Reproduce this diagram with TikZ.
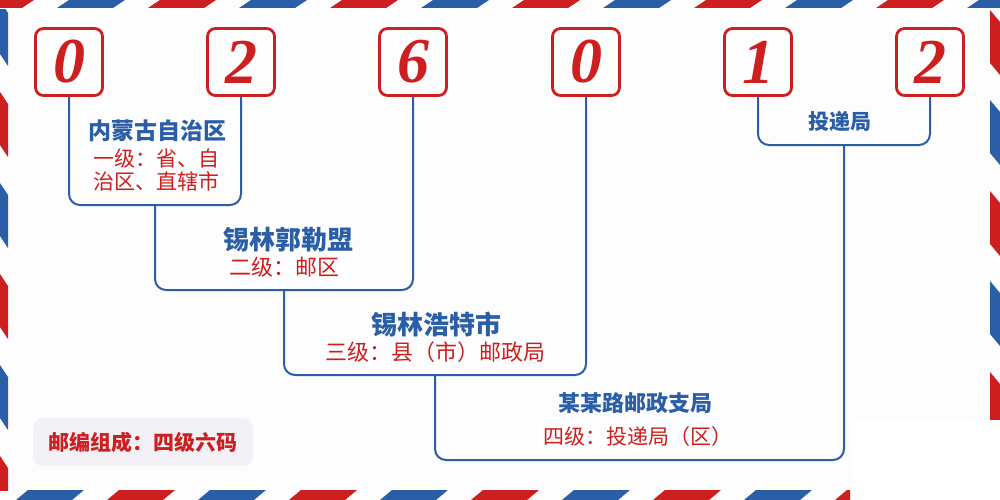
\documentclass[tikz,border=0pt]{standalone}
\usepackage{fontspec}
\newfontfamily\cjk{Noto Sans CJK SC}
\newfontfamily\digitfont{Liberation Serif}
\definecolor{airred}{HTML}{CD1F1F}
\definecolor{airblue}{HTML}{2A5EA6}
\definecolor{bgcol}{HTML}{FCFDFC}
\definecolor{legendbg}{HTML}{F3F1F5}
\tikzset{
  digitbox/.style={draw=airred, line width=2.8pt, rounded corners=8pt, minimum size=67pt, inner sep=0pt,
    fill=bgcol, text=airred, font=\digitfont\bfseries\itshape\fontsize{64}{64}\selectfont},
  bracket/.style={draw=airblue, line width=2pt, rounded corners=11pt},
  titletext/.style={inner sep=0pt, text=airblue, font=\cjk\bfseries\fontsize{#1}{#1}\selectfont},
  subtext/.style={inner sep=0pt, text=airred, align=center, font=\cjk\fontsize{#1}{#1}\selectfont},
  legendbox/.style={fill=legendbg, rounded corners=10pt, minimum width=220pt, minimum height=48pt,
    inner sep=0pt, text=airred, font=\cjk\bfseries\fontsize{21}{21}\selectfont}
}
\begin{document}
\begin{tikzpicture}[x=1pt,y=-1pt]
\useasboundingbox (0,0) rectangle (1000,500);
\fill[bgcol] (0,0) rectangle (1000,500);
\fill[white] (850,419) rectangle (1000,500);
% top band
\begin{scope}
\clip (0,0) rectangle (1000,8);
\foreach \k in {0,...,5}{
  \pgfmathsetmacro{\r}{-34+182*\k}
  \pgfmathsetmacro{\b}{57+182*\k}
  \fill[airred] (\r,8) -- ++(56,0) -- ++(12,-8) -- ++(-56,0) -- cycle;
  \fill[airblue] (\b,8) -- ++(56,0) -- ++(12,-8) -- ++(-56,0) -- cycle;
}
\end{scope}
% bottom band
\begin{scope}
\clip (0,490) rectangle (850,500);
\foreach \k in {0,...,4}{
  \pgfmathsetmacro{\b}{28+182*\k}
  \pgfmathsetmacro{\r}{119+182*\k}
  \fill[airblue] (\b,490) -- ++(56,0) -- ++(-12,10) -- ++(-56,0) -- cycle;
  \fill[airred] (\r,490) -- ++(56,0) -- ++(-12,10) -- ++(-56,0) -- cycle;
}
\end{scope}
% left band
\begin{scope}
\clip (0,10) rectangle (8,490);
\foreach \k in {0,...,2}{
  \pgfmathsetmacro{\b}{1+182*\k}
  \pgfmathsetmacro{\r}{92+182*\k}
  \fill[airblue] (0,\b) -- ++(8,12) -- ++(0,53) -- ++(-8,-12) -- cycle;
  \fill[airred] (0,\r) -- ++(8,12) -- ++(0,53) -- ++(-8,-12) -- cycle;
}
\end{scope}
% right band
\begin{scope}
\clip (990,9) rectangle (1000,419);
\foreach \k in {0,...,2}{
  \pgfmathsetmacro{\r}{10+181*\k}
  \pgfmathsetmacro{\b}{100+181*\k}
  \fill[airred] (990,\r) -- ++(10,12) -- ++(0,53) -- ++(-10,-12) -- cycle;
  \fill[airblue] (990,\b) -- ++(10,12) -- ++(0,53) -- ++(-10,-12) -- cycle;
}
\end{scope}
% coordinates of bracket joints
\coordinate (m1) at (155,205);
\coordinate (m2) at (284,290);
\coordinate (m3) at (435,375);
\coordinate (m5) at (844,145);
\coordinate (m4) at (640,460);
% digit boxes (positions)
\path (69,62) coordinate (p1) (241,62) coordinate (p2) (413,62) coordinate (p3)
      (586,62) coordinate (p4) (758,62) coordinate (p5) (930,62) coordinate (p6);
\node[digitbox] (b1) at (p1) {0};
\node[digitbox] (b2) at (p2) {2};
\node[digitbox] (b3) at (p3) {6};
\node[digitbox] (b4) at (p4) {0};
\node[digitbox] (b5) at (p5) {1};
\node[digitbox] (b6) at (p6) {2};
% brackets
\draw[bracket] (b1.south) |- (m1) -| (b2.south);
\draw[bracket] (m1) |- (m2) -| (b3.south);
\draw[bracket] (m2) |- (m3) -| (b4.south);
\draw[bracket] (b5.south) |- (m5) -| (b6.south);
\draw[bracket] (m3) |- (m4) -| (m5);
% texts
\node[titletext=23] (t1) at (157,131) {内蒙古自治区};
\node[subtext=21] (t1s) at (156,170) {一级：省、自\\[2pt]治区、直辖市};
\node[titletext=26] (t2) at (288,240) {锡林郭勒盟};
\node[subtext=22] (t2s) at (284,267) {二级：邮区};
\node[titletext=26] (t3) at (436,324) {锡林浩特市};
\node[subtext=22] (t3s) at (435.5,352) {三级：县（市）邮政局};
\node[titletext=22] (t4) at (635,403) {某某路邮政支局};
\node[subtext=21] (t4s) at (638,437) {四级：投递局（区）};
\node[titletext=21] (t5) at (840,121) {投递局};
\node[legendbox] (lg) at (143,442) {邮编组成：四级六码};
\end{tikzpicture}
\end{document}
